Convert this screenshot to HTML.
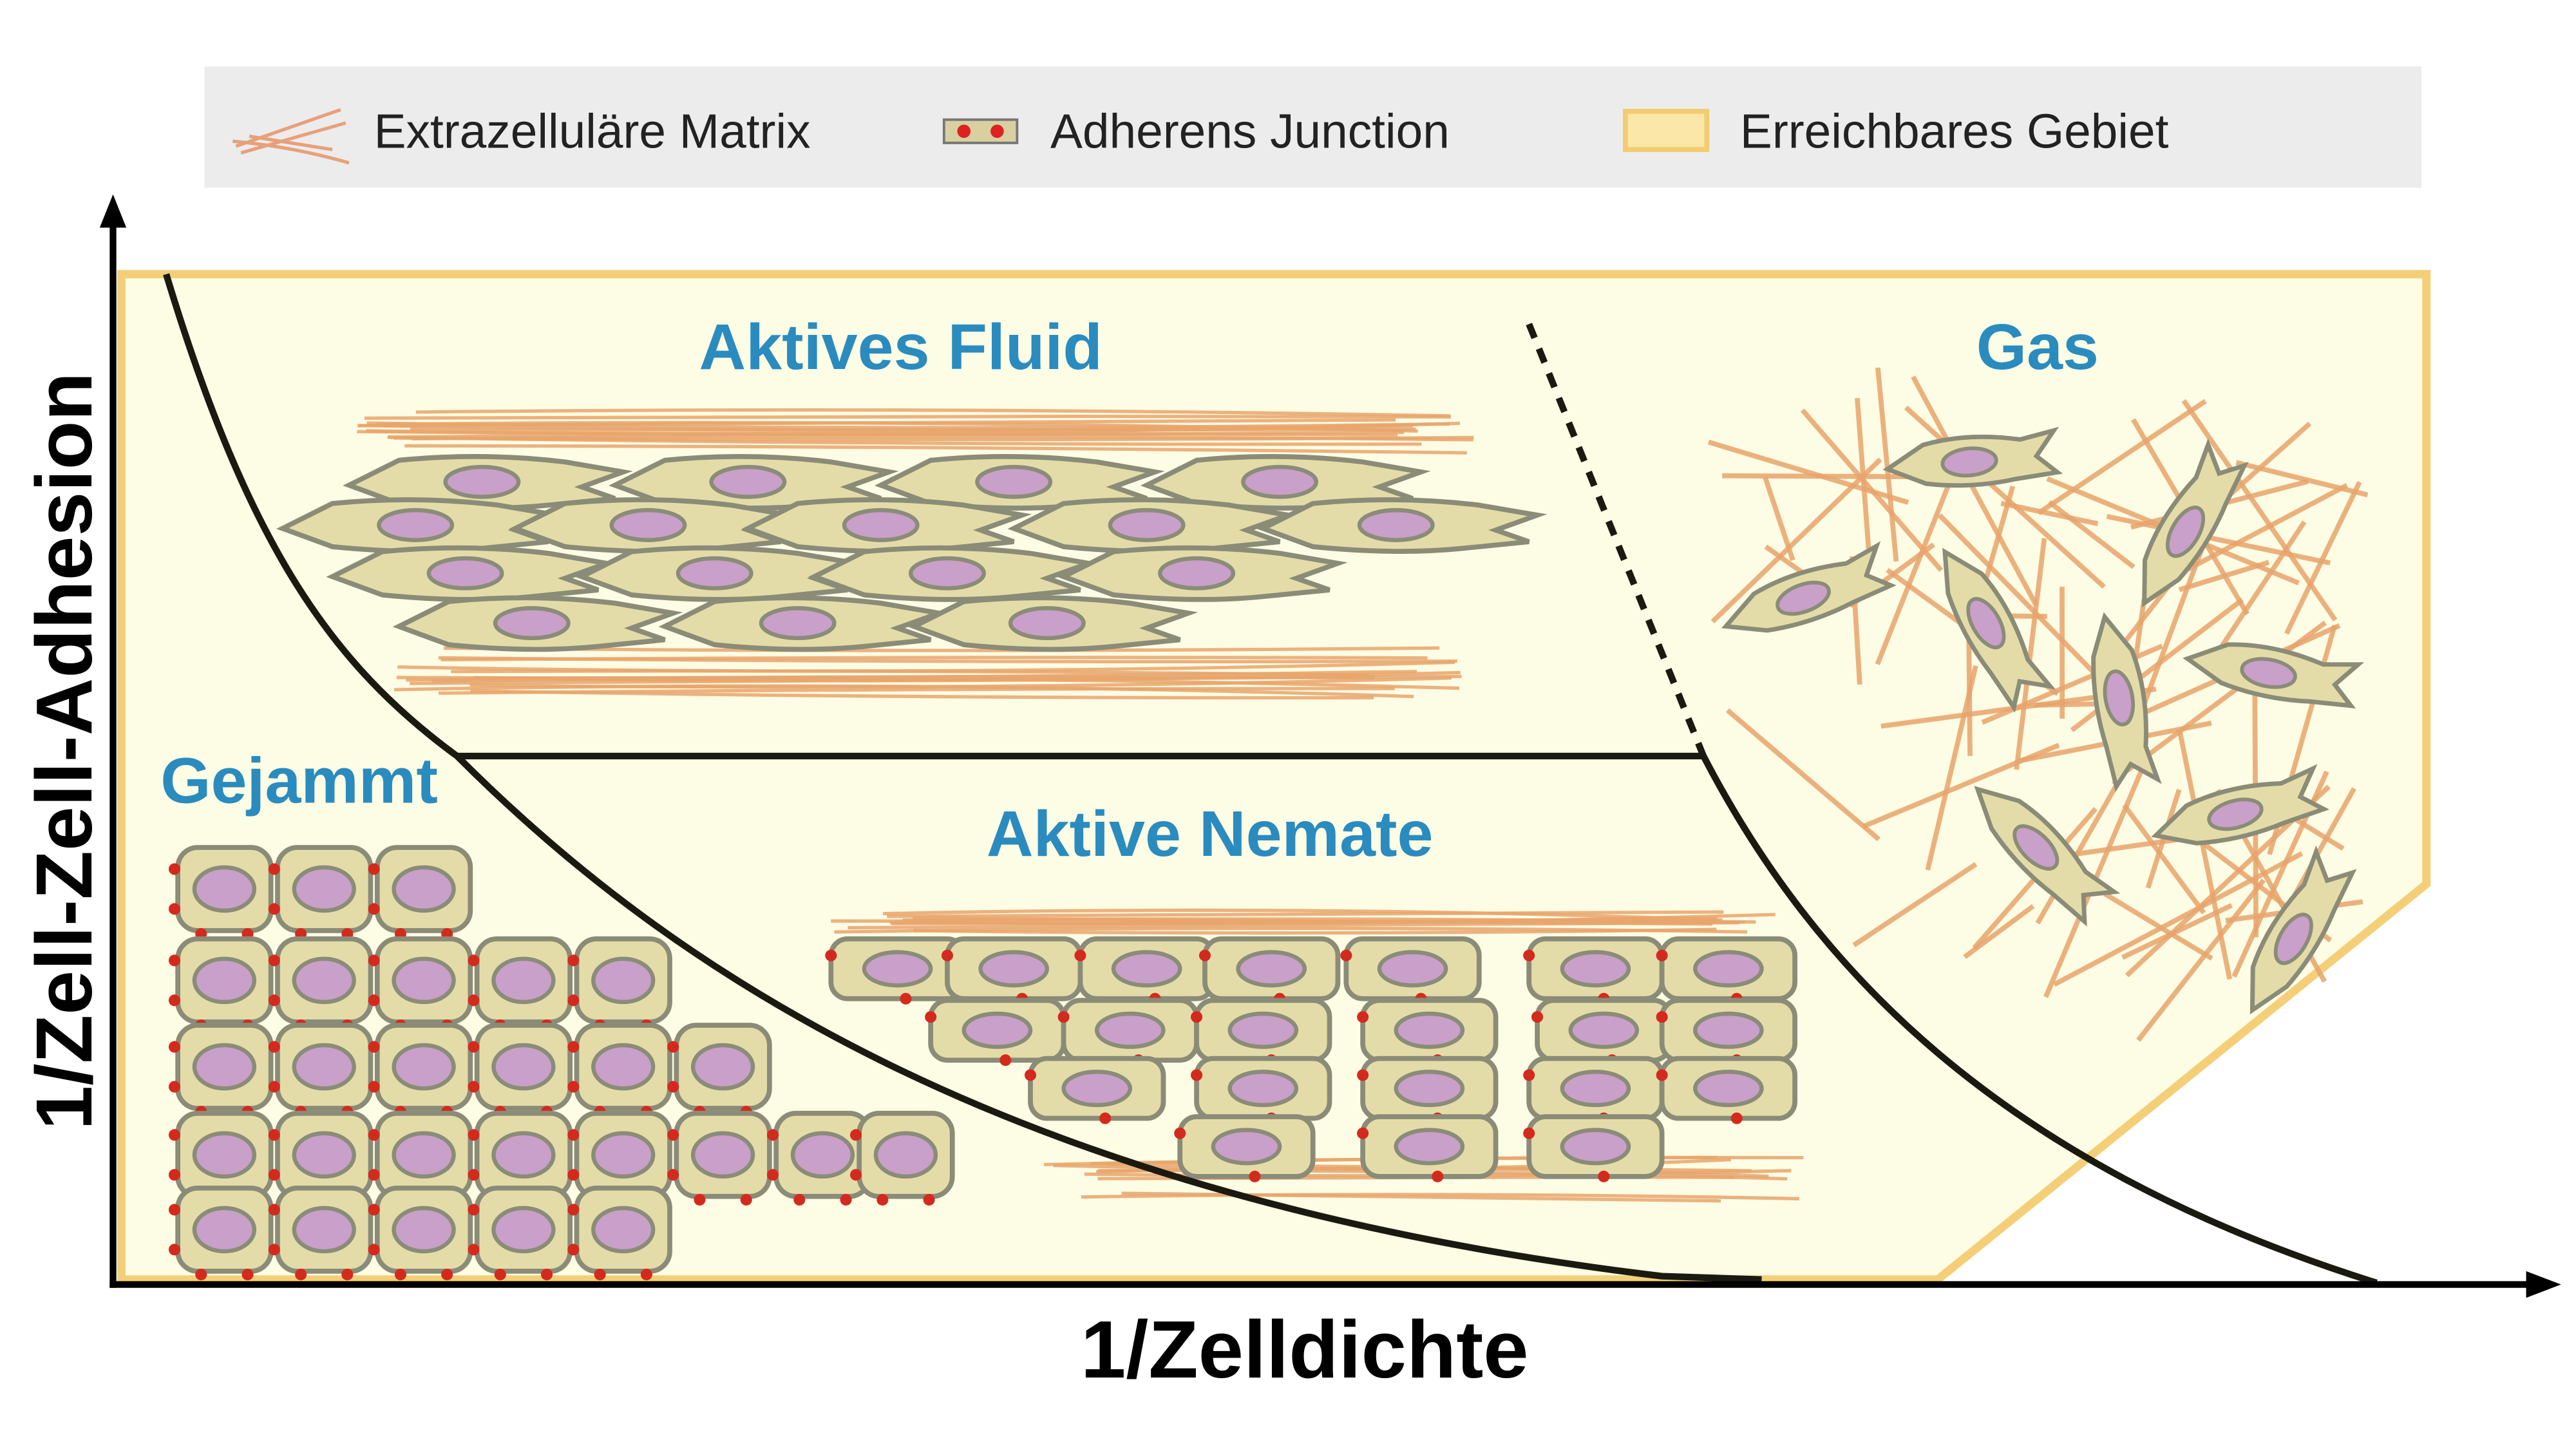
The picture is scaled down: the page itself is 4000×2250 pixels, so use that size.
<!DOCTYPE html>
<html><head><meta charset="utf-8"><style>
html,body{margin:0;padding:0;background:#fff;width:4000px;height:2250px;overflow:hidden}
svg{display:block}
text{font-family:"Liberation Sans",Arial,sans-serif}
</style></head><body>
<svg id="s" width="4000" height="2250" viewBox="0 0 1550 872" preserveAspectRatio="none" xmlns="http://www.w3.org/2000/svg">
<rect x="123" y="40" width="1334" height="73" fill="#ececec"/>
<g stroke="#e8a07a" stroke-width="2" fill="none"><path d="M142 88 L205 66"/><path d="M145 92 L208 74"/><path d="M140 85 Q175 88 210 98"/><path d="M150 82 L200 90"/></g>
<rect x="568" y="72" width="44" height="14" fill="#d8d0a0" stroke="#777" stroke-width="1.5"/>
<circle cx="580" cy="79" r="4" fill="#d22"/><circle cx="600" cy="79" r="4" fill="#d22"/>
<rect x="978" y="67" width="49" height="23" fill="#fbe7a8" stroke="#f3cc72" stroke-width="3"/>
<text x="225" y="89" font-size="29" fill="#222">Extrazelluläre Matrix</text>
<text x="632" y="89" font-size="29" fill="#222">Adherens Junction</text>
<text x="1047" y="89" font-size="29" fill="#222">Erreichbares Gebiet</text>
<polygon points="73,165 1460,165 1460,532 1166,770 73,770" fill="#fdfce4" stroke="#f4cf78" stroke-width="5"/>
<g id="cells"></g>
<path d="M100 165 C150 330 200 400 275 455 C400 580 600 720 1000 768 L1060 770" fill="none" stroke="#1a1a10" stroke-width="4"/>
<path d="M1025 455 C1090 580 1200 700 1430 772" fill="none" stroke="#1a1a10" stroke-width="4"/>
<line x1="275" y1="455" x2="1025" y2="455" stroke="#1a1a10" stroke-width="4"/>
<line x1="920" y1="195" x2="1025" y2="455" stroke="#1a1a10" stroke-width="4" stroke-dasharray="9 7"/>
<line x1="68" y1="775" x2="68" y2="130" stroke="#000" stroke-width="4"/>
<polygon points="68,117 60,137 76,137" fill="#000"/>
<line x1="66" y1="773" x2="1525" y2="773" stroke="#000" stroke-width="4"/>
<polygon points="1541,773 1520,765 1520,781" fill="#000"/>
<g font-weight="bold" fill="#2a8bbf" font-size="39">
<text x="542" y="222" text-anchor="middle">Aktives Fluid</text>
<text x="1226" y="222" text-anchor="middle">Gas</text>
<text x="180" y="483" text-anchor="middle">Gejammt</text>
<text x="728" y="515" text-anchor="middle">Aktive Nemate</text>
</g>
<text x="785" y="829" text-anchor="middle" font-size="49" font-weight="bold" fill="#000">1/Zelldichte</text>
<text transform="translate(55,452) rotate(-90)" text-anchor="middle" font-size="48" font-weight="bold" fill="#000">1/Zell-Zell-Adhesion</text>
</svg>
<script>
var g=document.getElementById('cells'),h='';
var seed=7;function r(){seed=(seed*16807)%2147483647;return seed/2147483647;}
var CF='#e4dca8',CS='#8a8c78',NU='#c9a0c9',FB='#e8a46c',RD='#d42a1e';
function fib(x1,x2,y1,y2,n,w){for(var i=0;i<n;i++){var y=y1+r()*(y2-y1);var xa=x1+r()*60,xb=x2-r()*60;h+='<path d="M'+xa+' '+y+' Q'+((xa+xb)/2)+' '+(y+(r()-.5)*12)+' '+xb+' '+(y+(r()-.5)*10)+'" stroke="'+FB+'" stroke-width="'+(w||2)+'" fill="none" opacity="0.85"/>';}}
fib(195,890,248,270,14);fib(230,880,390,418,14);
var rows=[[290,[290,450,610,770]],[316,[250,390,530,690,840]],[345,[280,430,570,720]],[375,[320,480,630]]];
rows.forEach(function(R){R[1].forEach(function(x){var y=R[0];h+='<path d="M'+(x-80)+' '+(y+2)+' L'+(x-50)+' '+(y-13)+' Q'+x+' '+(y-18)+' '+(x+50)+' '+(y-12)+' L'+(x+85)+' '+(y-6)+' L'+(x+60)+' '+(y+3)+' L'+(x+80)+' '+(y+10)+' L'+(x+40)+' '+(y+14)+' Q'+x+' '+(y+18)+' '+(x-50)+' '+(y+13)+' Z" fill="'+CF+'" stroke="'+CS+'" stroke-width="3"/><ellipse cx="'+x+'" cy="'+y+'" rx="22" ry="9" fill="'+NU+'" stroke="'+CS+'" stroke-width="2.5"/>';});});
var jr=[[535,[135,195,255]],[590,[135,195,255,315,375]],[642,[135,195,255,315,375,435]],[695,[135,195,255,315,375,435,495,545]],[740,[135,195,255,315,375]]];
jr.forEach(function(R){R[1].forEach(function(x){var y=R[0];h+='<rect x="'+(x-28)+'" y="'+(y-25)+'" width="56" height="50" rx="12" fill="'+CF+'" stroke="'+CS+'" stroke-width="3"/><ellipse cx="'+x+'" cy="'+y+'" rx="18" ry="13" fill="'+NU+'" stroke="'+CS+'" stroke-width="2.5"/>';[[-30,-12],[-30,12],[-14,27],[14,27]].forEach(function(d){h+='<circle cx="'+(x+d[0])+'" cy="'+(y+d[1])+'" r="3.5" fill="'+RD+'"/>';});});});
fib(490,1090,548,562,10);fib(620,1090,700,722,10);
var nr=[[583,[540,610,690,765,850,960,1040]],[620,[600,680,760,860,965,1040]],[655,[660,760,860,960,1040]],[690,[750,860,960]]];
nr.forEach(function(R){R[1].forEach(function(x){var y=R[0];h+='<rect x="'+(x-40)+'" y="'+(y-18)+'" width="80" height="36" rx="10" fill="'+CF+'" stroke="'+CS+'" stroke-width="3"/><ellipse cx="'+x+'" cy="'+y+'" rx="20" ry="10" fill="'+NU+'" stroke="'+CS+'" stroke-width="2.5"/><circle cx="'+(x-40)+'" cy="'+(y-8)+'" r="3.5" fill="'+RD+'"/><circle cx="'+(x+5)+'" cy="'+(y+18)+'" r="3.5" fill="'+RD+'"/>';});});
for(var i=0;i<70;i++){var cx=1070+r()*330,cy=270+r()*320;var a=r()*Math.PI,l=25+r()*60;h+='<line x1="'+(cx-Math.cos(a)*l)+'" y1="'+(cy-Math.sin(a)*l)+'" x2="'+(cx+Math.cos(a)*l)+'" y2="'+(cy+Math.sin(a)*l)+'" stroke="'+FB+'" stroke-width="3" opacity="0.85"/>';}
var gc=[[1185,278,-5],[1085,360,-20],[1315,320,-60],[1195,375,60],[1275,420,80],[1365,405,10],[1225,510,45],[1345,490,-15],[1380,565,-60]];
gc.forEach(function(c){h+='<g transform="translate('+c[0]+','+c[1]+') rotate('+c[2]+') scale(0.9)"><path d="M-55 0 L-30 -14 Q0 -20 35 -12 L58 -16 L45 0 L58 12 L30 14 Q0 18 -30 12 Z" fill="'+CF+'" stroke="'+CS+'" stroke-width="3"/><ellipse cx="0" cy="0" rx="18" ry="9" fill="'+NU+'" stroke="'+CS+'" stroke-width="2.5"/></g>';});
g.innerHTML=h;
</script>
</body></html>
